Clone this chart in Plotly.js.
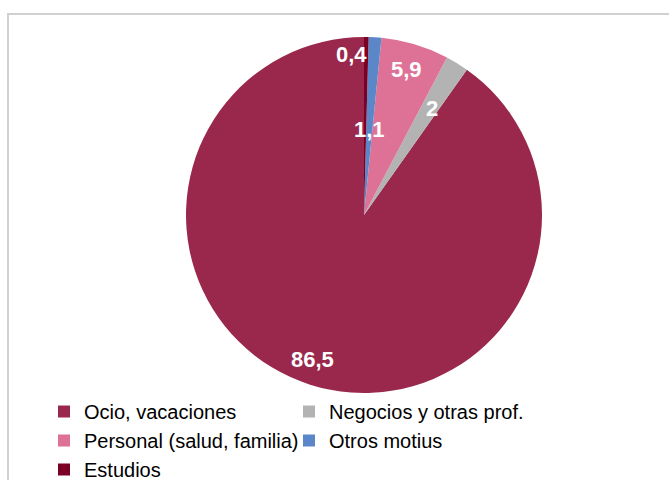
<!DOCTYPE html>
<html>
<head>
<meta charset="utf-8">
<script src="https://cdn.plot.ly/plotly-3.0.1.min.js"></script>
<style>
  html, body { margin: 0; padding: 0; background: #fff; }
  #wrap { position: relative; width: 669px; height: 480px; overflow: hidden; }
  #frame { position: absolute; left: 7px; top: 13px; width: 700px; height: 500px;
           border-left: 2px solid #d0d0d0; border-top: 2px solid #d0d0d0; pointer-events: none; }
  #chart { position: absolute; left: 0; top: 0; width: 669px; height: 480px; }
</style>
</head>
<body>
<div id="wrap">
  <div id="chart"></div>
  <div id="frame"></div>
</div>
<script>
// Data
const categories = ["Ocio, vacaciones", "Negocios y otras prof.", "Personal (salud, familia)", "Otros motius", "Estudios"];
const values = [86.5, 2, 5.9, 1.1, 0.4];
const labelsText = ["86,5", "2", "5,9", "1,1", "0,4"];
const colors = ["#99284C", "#B3B3B3", "#DE7296", "#5B87C9", "#7B0025"];

// Label placement style (fraction of radius, x shift in px)
const labelRadius = [0.85, 0.7, 0.855, 0.48, 0.9];
const labelXShift = [-6, 3, -1, 0, -15];

const W = 669, H = 480;
const cx = 364, cy = 215, R = 178;

const total = values.reduce((a, b) => a + b, 0);
// first slice (counterclockwise) ends at this clockwise angle so the last slice starts at 12 o'clock
const rot = 360 * (total - values[0]) / total;

const annotations = [];
let cum = 0;
values.forEach((v, i) => {
  const midCcw = (cum + v / 2) / total * 360;
  cum += v;
  const cw = (360 - midCcw) * Math.PI / 180;
  const r = R * labelRadius[i];
  const px = cx + r * Math.sin(cw);
  const py = cy - r * Math.cos(cw);
  annotations.push({
    x: px / W, y: 1 - py / H, xref: "paper", yref: "paper",
    text: labelsText[i], showarrow: false, xshift: labelXShift[i],
    font: { family: "Liberation Sans, Arial, sans-serif", size: 22, color: "#ffffff", weight: "bold" },
    xanchor: "center", yanchor: "middle"
  });
});

const trace = {
  type: "pie",
  labels: categories,
  values: values,
  sort: false,
  direction: "counterclockwise",
  rotation: rot,
  textinfo: "none",
  hoverinfo: "label+value",
  marker: { colors: colors, line: { width: 0 } },
  domain: { x: [(cx - R) / W, (cx + R) / W], y: [1 - (cy + R) / H, 1 - (cy - R) / H] }
};

const layout = {
  width: W, height: H,
  margin: { l: 0, r: 0, t: 0, b: 0, autoexpand: false },
  paper_bgcolor: "rgba(0,0,0,0)",
  plot_bgcolor: "rgba(0,0,0,0)",
  showlegend: true,
  legend: {
    orientation: "h",
    x: 44 / W, y: 1 - 392 / H, xanchor: "left", yanchor: "top",
    entrywidth: 200, entrywidthmode: "pixels",
    font: { family: "Liberation Sans, Arial, sans-serif", size: 20, color: "#000000" },
    traceorder: "normal",
    itemclick: false
  },
  annotations: annotations
};

Plotly.newPlot("chart", [trace], layout, { displayModeBar: false, staticPlot: true });
</script>
</body>
</html>
